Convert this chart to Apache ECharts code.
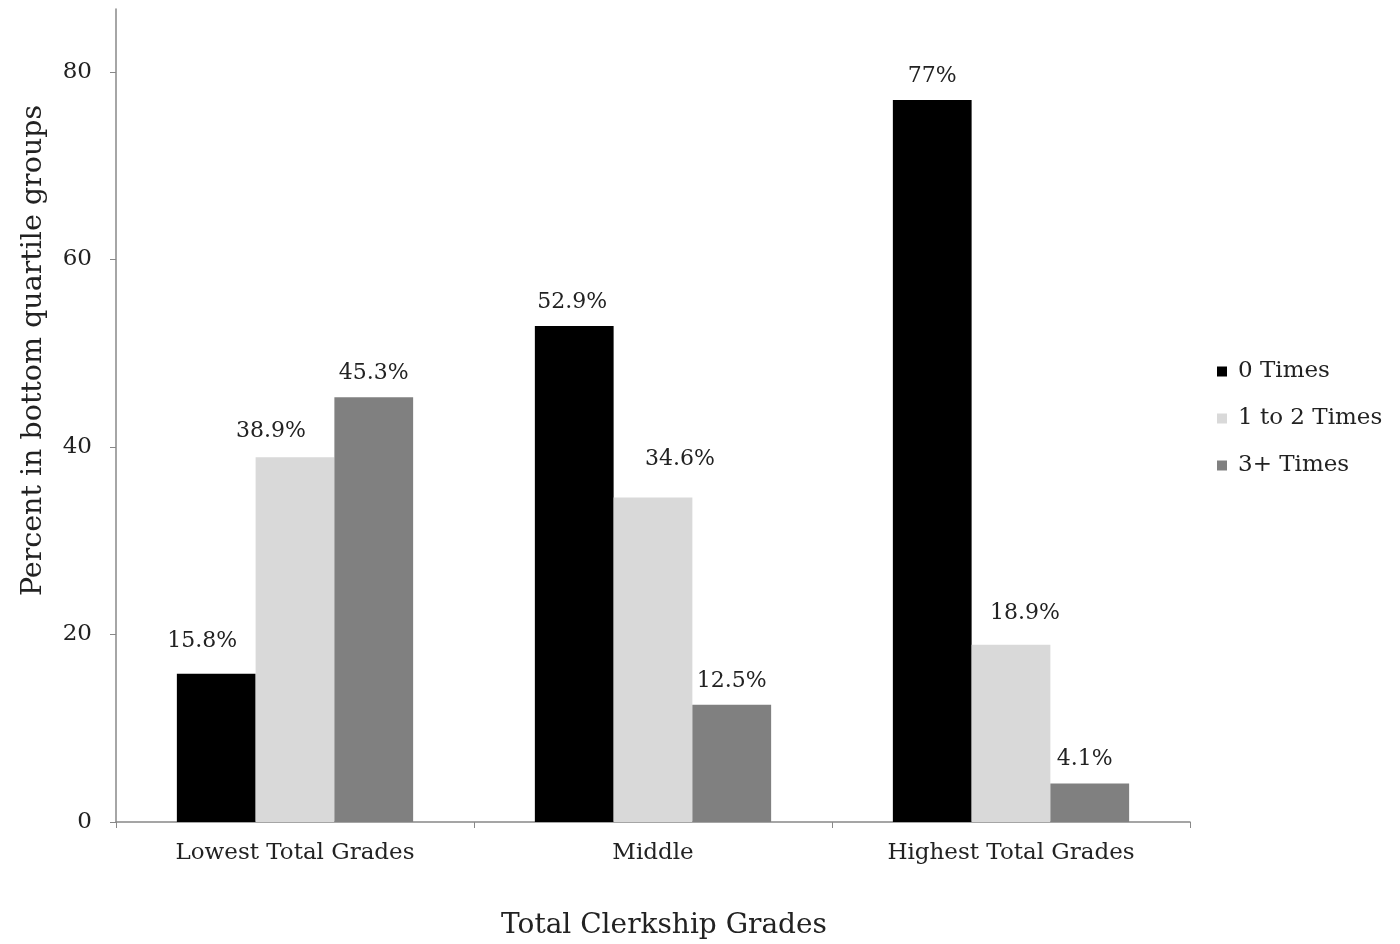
<!DOCTYPE html>
<html><head><meta charset="utf-8">
<script src="https://cdn.jsdelivr.net/npm/echarts@6/dist/echarts.min.js"></script>
<style>html,body{margin:0;padding:0;background:#fff}#c{width:1400px;height:944px}</style>
</head><body><div id="c"></div>
<script>
const categories = ['Lowest Total Grades', 'Middle', 'Highest Total Grades'];
const seriesNames = ['0 Times', '1 to 2 Times', '3+ Times'];
const zeroTimes = [15.8, 52.9, 77];
const oneToTwoTimes = [38.9, 34.6, 18.9];
const threePlusTimes = [45.3, 12.5, 4.1];
const yTicks = [0, 20, 40, 60, 80];
const labelTexts = [['15.8%', '52.9%', '77%'], ['38.9%', '34.6%', '18.9%'], ['45.3%', '12.5%', '4.1%']];
// label nudges (style only), per series per category: [dx, dy]
const labelNudges = [
  [[-14, -9], [-2, 0], [0, 0]],
  [[-24, -2], [27, -14], [14, -7]],
  [[0, 0], [0, 0], [-5, 0]]
];

const font = 'DejaVu Serif';
const colors = ['#000000', '#d9d9d9', '#808080'];
const values = [zeroTimes, oneToTwoTimes, threePlusTimes];

const chart = echarts.init(document.getElementById('c'), null, {renderer: 'canvas'});
chart.setOption({
  animation: false,
  textStyle: {fontFamily: font},
  grid: {left: 116, right: 210, top: 9, bottom: 122, containLabel: false, outerBoundsMode: 'none'},
  legend: {
    orient: 'vertical', left: 1212, top: 355, itemWidth: 10, itemHeight: 10, itemGap: 24,
    icon: 'rect',
    data: seriesNames,
    textStyle: {fontFamily: font, fontSize: 23, color: '#222', padding: [0, 0, 0, 6]}
  },
  xAxis: {
    type: 'category', data: categories,
    name: 'Total Clerkship Grades', nameLocation: 'middle', nameGap: 90,
    nameTextStyle: {fontFamily: font, fontSize: 28, color: '#222', padding: [0, 0, 0, 22]},
    axisLine: {lineStyle: {color: '#888', width: 1.5}},
    axisTick: {show: true, length: 6, lineStyle: {color: '#888'}},
    axisLabel: {fontFamily: font, fontSize: 23, color: '#222', margin: 20}
  },
  yAxis: {
    type: 'value', min: 0, max: 86.7, interval: 20,
    name: 'Percent in bottom quartile groups', nameLocation: 'middle', nameGap: 68,
    nameTextStyle: {fontFamily: font, fontSize: 28.5, color: '#222', padding: [0, 0, 0, 130]},
    axisLine: {show: true, lineStyle: {color: '#888', width: 1.5}},
    axisTick: {show: true, length: 6, inside: false, lineStyle: {color: '#888'}, customValues: yTicks},
    axisLabel: {fontFamily: font, fontSize: 23, color: '#222', margin: 24, customValues: yTicks},
    splitLine: {show: false}
  },
  series: values.map((v, i) => ({
    name: seriesNames[i], type: 'bar',
    data: v.map((val, j) => ({value: val, label: {offset: labelNudges[i][j]}})),
    barGap: '0%', barCategoryGap: '34%',
    itemStyle: {color: colors[i]},
    label: {
      show: true, position: 'top', distance: 13,
      fontFamily: font, fontSize: 22, color: '#222',
      formatter: p => labelTexts[i][p.dataIndex]
    }
  }))
});
</script></body></html>
